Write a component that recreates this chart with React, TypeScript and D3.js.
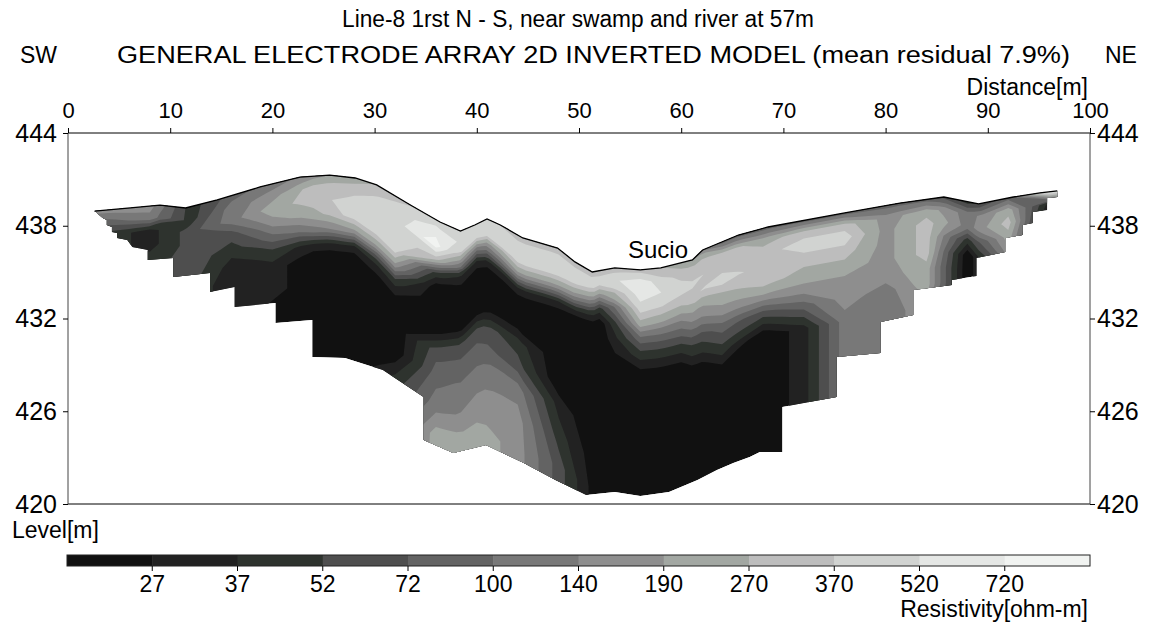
import React, { useEffect, useRef } from 'react';
import * as d3 from 'd3';

const distanceTicks = [0, 10, 20, 30, 40, 50, 60, 70, 80, 90, 100];
const levelTicks = [444, 438, 432, 426, 420];

// ground surface (distance m, elevation m)
const surfaceX = [2.6, 6.1, 9.0, 11.5, 14.6, 18.8, 22.7, 25.6, 28.1, 30.2, 33.5, 36.4, 38.4, 39.8, 41.0, 42.3, 44.5, 47.9, 49.6, 51.3, 53.5, 56.0, 58.0, 61.1, 62.1, 65.6, 68.5, 76.0, 81.4, 85.7, 89.1, 92.5, 95.1, 96.8];
const surfaceZ = [438.95, 439.15, 439.34, 439.15, 439.67, 440.51, 441.15, 441.28, 441.09, 440.64, 439.34, 438.24, 437.66, 438.05, 438.44, 438.05, 437.21, 436.56, 435.66, 435.01, 435.27, 435.14, 435.27, 435.79, 436.43, 437.4, 437.92, 438.83, 439.47, 439.86, 439.41, 439.86, 440.12, 440.25];

// lower edge of the model, left to right
const bottomX = [3.4, 3.8, 3.8, 4.3, 4.3, 4.8, 4.8, 5.8, 6.3, 7.8, 7.8, 10.3, 10.3, 13.9, 13.9, 16.3, 16.3, 20.3, 20.3, 23.9, 23.9, 27.1, 30.8, 34.8, 34.8, 37.7, 40.9, 44.6, 47.7, 50.7, 53.5, 56.0, 58.8, 61.6, 63.5, 65.1, 66.7, 67.7, 69.9, 69.9, 75.2, 75.2, 79.5, 79.5, 82.7, 82.7, 86.5, 86.5, 88.9, 88.9, 91.7, 91.7, 93.4, 93.4, 94.4, 94.4, 95.8, 95.8, 96.8];
const bottomZ = [438.5, 438.37, 438.05, 437.92, 437.6, 437.53, 437.21, 437.08, 436.63, 436.43, 435.79, 435.91, 434.69, 434.94, 433.72, 434.04, 432.75, 433.0, 431.71, 431.9, 429.51, 429.45, 428.67, 426.92, 424.14, 423.3, 423.82, 422.65, 421.56, 420.58, 420.78, 420.52, 420.78, 421.56, 422.2, 422.65, 423.04, 423.37, 423.37, 426.28, 426.92, 429.51, 429.77, 431.77, 432.23, 433.84, 434.17, 434.49, 434.75, 435.91, 436.3, 437.21, 437.4, 438.05, 438.18, 438.89, 439.02, 439.8, 439.86];

// model grid: distance columns and depth below surface rows
const gridX = [0, 4, 8, 12, 16, 20, 24, 28, 32, 36, 40, 44, 48, 52, 56, 60, 64, 68, 72, 76, 80, 84, 88, 92, 96, 100];
const gridDepth = [0, 0.8, 1.6, 2.5, 3.5, 4.5, 5.5, 7, 8.5, 10, 12, 14, 16.5];

// resistivity (ohm-m), one row per depth
const resistivity = [
  [165, 165, 165, 44, 85, 120, 165, 230, 320, 440, 440, 320, 320, 320, 320, 230, 85, 85, 85, 85, 85, 85, 44, 85, 620, 620],
  [85, 85, 120, 44, 120, 165, 320, 320, 440, 620, 440, 440, 440, 440, 620, 320, 320, 230, 320, 320, 165, 230, 120, 230, 32, 32],
  [44, 44, 32, 62, 120, 230, 320, 440, 440, 900, 120, 440, 440, 165, 620, 440, 320, 320, 440, 440, 165, 320, 120, 320, 20, 20],
  [44, 44, 32, 62, 62, 165, 230, 440, 440, 320, 32, 165, 165, 44, 440, 320, 440, 320, 320, 320, 165, 320, 44, 230, 20, 20],
  [44, 44, 44, 62, 44, 85, 120, 165, 440, 44, 20, 32, 32, 20, 230, 165, 230, 320, 230, 230, 165, 320, 20, 165, 20, 20],
  [44, 44, 44, 62, 32, 44, 32, 32, 165, 20, 20, 20, 20, 20, 85, 85, 165, 165, 165, 165, 165, 230, 20, 165, 20, 20],
  [44, 44, 44, 44, 32, 32, 20, 20, 44, 20, 20, 20, 20, 20, 44, 44, 85, 62, 85, 165, 120, 230, 20, 165, 20, 20],
  [44, 44, 44, 44, 32, 32, 20, 20, 20, 20, 62, 44, 20, 20, 20, 20, 44, 20, 32, 120, 120, 165, 20, 165, 20, 20],
  [44, 44, 44, 44, 32, 20, 20, 20, 20, 62, 85, 62, 20, 20, 20, 20, 20, 20, 32, 120, 120, 165, 20, 165, 20, 20],
  [44, 44, 44, 44, 32, 20, 20, 20, 20, 85, 120, 120, 32, 20, 20, 20, 20, 20, 32, 120, 120, 165, 20, 165, 20, 20],
  [44, 44, 44, 44, 32, 20, 20, 20, 44, 120, 165, 165, 44, 20, 20, 20, 20, 20, 32, 120, 120, 165, 20, 165, 20, 20],
  [44, 44, 44, 44, 32, 20, 20, 20, 62, 230, 230, 165, 62, 20, 20, 20, 20, 20, 32, 120, 120, 165, 20, 165, 20, 20],
  [44, 44, 44, 44, 32, 20, 20, 20, 85, 230, 230, 165, 62, 20, 20, 20, 20, 20, 32, 120, 120, 165, 20, 165, 20, 20],
];

const legendBreaks = [27, 37, 52, 72, 100, 140, 190, 270, 370, 520, 720];
const legendColors = ['#111111', '#222222', '#2e332e', '#4e4e4e', '#636363', '#787878', '#8e8e8e', '#a2a7a2', '#bdbdbd', '#d1d3d1', '#e5e7e5', '#f1f3f1'];

const FONT = '"Liberation Sans", Arial, sans-serif';

export default function App() {
  const svgRef = useRef<SVGSVGElement>(null);

  useEffect(() => {
    const svg = d3.select(svgRef.current);
    svg.selectAll('*').remove();

    const x = d3.scaleLinear().domain([0, 100]).range([68, 1090]);
    const y = d3.scaleLinear().domain([420, 444]).range([504, 133]);
    const surf = d3.scaleLinear().domain(surfaceX).range(surfaceZ).clamp(true);

    // section outline
    const outline: [number, number][] = [
      ...surfaceX.map((d, i) => [d, surfaceZ[i]] as [number, number]),
      ...bottomX.map((d, i) => [d, bottomZ[i]] as [number, number]).reverse(),
    ];
    const line = d3.line<[number, number]>().x((d) => x(d[0])).y((d) => y(d[1]));

    svg.append('clipPath').attr('id', 'section').append('path').attr('d', line(outline) + 'Z');

    // contour bands of the model, computed on the grid then bent to the topography
    const nx = gridX.length;
    const ny = gridDepth.length;
    const values = resistivity.flat().map((v) => Math.log10(v));
    const levels = legendBreaks.map((v) => Math.log10(v));
    const bands = d3.contours().size([nx, ny]).thresholds(levels)(values);
    const gx = d3.scaleLinear().domain([0.5, nx - 0.5]).range([gridX[0], gridX[nx - 1]]);
    const gd = d3.scaleLinear().domain(gridDepth.map((_, i) => i + 0.5)).range(gridDepth);
    const project = (a: number, b: number) => {
      const m = gx(a);
      return [x(m), y(surf(m) - gd(b))];
    };
    const ringPath = (ring: number[][]) => {
      const pts: number[][] = [];
      for (let i = 0; i < ring.length - 1; i++) {
        const [a0, b0] = ring[i];
        const [a1, b1] = ring[i + 1];
        const n = Math.max(1, Math.ceil(Math.hypot(a1 - a0, b1 - b0) / 0.2));
        for (let k = 0; k < n; k++) pts.push(project(a0 + ((a1 - a0) * k) / n, b0 + ((b1 - b0) * k) / n));
      }
      return 'M' + pts.map((p) => p[0].toFixed(2) + ',' + p[1].toFixed(2)).join('L') + 'Z';
    };

    const model = svg.append('g').attr('clip-path', 'url(#section)');
    model.append('path').attr('d', line(outline) + 'Z').attr('fill', legendColors[0]);
    bands.forEach((b, i) => {
      const d = b.coordinates.map((poly) => poly.map(ringPath).join('')).join('');
      if (d) model.append('path').attr('d', d).attr('fill', legendColors[i + 1]).attr('fill-rule', 'evenodd');
    });

    // ground line
    svg
      .append('path')
      .attr('d', line(surfaceX.map((d, i) => [d, surfaceZ[i]] as [number, number])))
      .attr('fill', 'none')
      .attr('stroke', '#000')
      .attr('stroke-width', 1.3);

    // frame
    svg.append('line').attr('x1', 68).attr('x2', 1090).attr('y1', 133).attr('y2', 133).attr('stroke', '#000');
    svg.append('line').attr('x1', 68).attr('x2', 1090).attr('y1', 504).attr('y2', 504).attr('stroke', '#000');
    svg.append('line').attr('x1', 68).attr('x2', 68).attr('y1', 133).attr('y2', 504).attr('stroke', '#444');
    svg.append('line').attr('x1', 1090).attr('x2', 1090).attr('y1', 133).attr('y2', 504).attr('stroke', '#444');

    // axes
    const styleAxis = (g: any) => {
      g.select('.domain').remove();
      g.selectAll('text').attr('font-family', FONT).attr('font-size', 22).attr('fill', '#000');
      g.selectAll('line').attr('stroke', '#000');
    };
    svg
      .append('g')
      .attr('transform', 'translate(0,133)')
      .call(d3.axisTop(x).tickValues(distanceTicks).tickSize(5).tickPadding(10).tickSizeOuter(0))
      .call(styleAxis);
    svg
      .append('g')
      .attr('transform', 'translate(68,0)')
      .call(d3.axisLeft(y).tickValues(levelTicks).tickSize(5).tickPadding(6).tickSizeOuter(0))
      .call(styleAxis)
      .call((g: any) => g.selectAll('text').attr('font-size', 25));
    svg
      .append('g')
      .attr('transform', 'translate(1090,0)')
      .call(d3.axisRight(y).tickValues(levelTicks).tickSize(5).tickPadding(2).tickSizeOuter(0))
      .call(styleAxis)
      .call((g: any) => g.selectAll('text').attr('font-size', 25));

    const text = (s: string, tx: number, ty: number, anchor = 'start', size = 23) =>
      svg
        .append('text')
        .attr('x', tx)
        .attr('y', ty)
        .attr('text-anchor', anchor)
        .attr('font-family', FONT)
        .attr('font-size', size)
        .attr('fill', '#000')
        .text(s);

    text('Line-8 1rst N - S, near swamp and river at 57m', 342, 27).attr('textLength', 472).attr('lengthAdjust', 'spacingAndGlyphs');
    text('SW', 20, 63);
    text('GENERAL ELECTRODE ARRAY 2D INVERTED MODEL (mean residual 7.9%)', 117, 63).attr('textLength', 953).attr('lengthAdjust', 'spacingAndGlyphs');
    text('NE', 1105, 63);
    text('Distance[m]', 1088, 95, 'end');
    text('Level[m]', 12, 538);
    text('Sucio', 628, 258, 'start', 24);
    text('Resistivity[ohm-m]', 1088, 617, 'end');

    // colour scale
    const lx = d3.scaleLinear().domain([0, legendColors.length]).range([67, 1090]);
    const legend = svg.append('g');
    legend
      .selectAll('rect.box')
      .data(legendColors)
      .enter()
      .append('rect')
      .attr('class', 'box')
      .attr('x', (_, i) => lx(i))
      .attr('width', (_, i) => lx(i + 1) - lx(i) + 0.5)
      .attr('y', 555)
      .attr('height', 11)
      .attr('fill', (d) => d);
    legend
      .append('rect')
      .attr('x', 67)
      .attr('y', 555)
      .attr('width', 1023)
      .attr('height', 11)
      .attr('fill', 'none')
      .attr('stroke', '#222')
      .attr('stroke-width', 1);
    legend
      .selectAll('line.tk')
      .data(legendBreaks)
      .enter()
      .append('line')
      .attr('class', 'tk')
      .attr('x1', (_, i) => lx(i + 1))
      .attr('x2', (_, i) => lx(i + 1))
      .attr('y1', 566)
      .attr('y2', 571)
      .attr('stroke', '#000');
    legend
      .selectAll('text.lb')
      .data(legendBreaks)
      .enter()
      .append('text')
      .attr('class', 'lb')
      .attr('x', (_, i) => lx(i + 1))
      .attr('y', 592)
      .attr('text-anchor', 'middle')
      .attr('font-family', FONT)
      .attr('font-size', 23)
      .text((d) => d);
  }, []);

  return (
    <svg
      ref={svgRef}
      width={1155}
      height={625}
      style={{ position: 'absolute', left: 0, top: 0, background: '#fff' }}
    ></svg>
  );
}
